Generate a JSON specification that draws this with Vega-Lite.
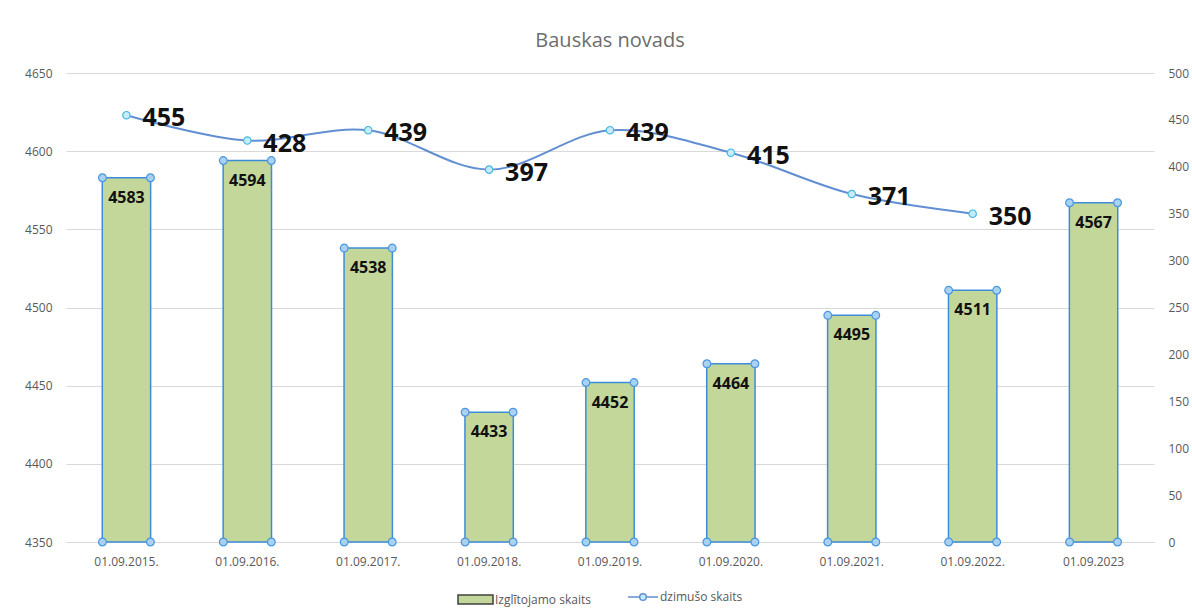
{
  "$schema": "https://vega.github.io/schema/vega-lite/v6.json",
  "width": 1192,
  "height": 615,
  "autosize": {"type": "fit", "contains": "padding"},
  "padding": {"left": 24, "right": 3, "top": 31, "bottom": 48},
  "background": "white",
  "config": {
    "view": {"stroke": null},
    "font": "Open Sans",
    "axis": {"labelColor": "#595959", "labelFontSize": 12, "labelFont": "Open Sans", "titleColor": "#595959"}
  },
  "title": {"text": "Bauskas novads", "fontSize": 20, "font": "Open Sans", "fontWeight": "normal", "color": "#6d6d6d", "offset": 16},
  "data": {
    "values": [
      {"date": "01.09.2015.", "pupils": 4583, "born": 455},
      {"date": "01.09.2016.", "pupils": 4594, "born": 428},
      {"date": "01.09.2017.", "pupils": 4538, "born": 439},
      {"date": "01.09.2018.", "pupils": 4433, "born": 397},
      {"date": "01.09.2019.", "pupils": 4452, "born": 439},
      {"date": "01.09.2020.", "pupils": 4464, "born": 415},
      {"date": "01.09.2021.", "pupils": 4495, "born": 371},
      {"date": "01.09.2022.", "pupils": 4511, "born": 350},
      {"date": "01.09.2023", "pupils": 4567, "born": null}
    ]
  },
  "encoding": {
    "x": {
      "field": "date", "type": "nominal", "sort": null, "title": null,
      "scale": {"paddingInner": 0.6, "paddingOuter": 0.3},
      "axis": {"labelAngle": 0, "ticks": false, "domainColor": "#D9D9D9", "labelPadding": 14, "grid": false}
    }
  },
  "layer": [
    {
      "encoding": {
        "y": {"type": "quantitative", "scale": {"domain": [4350, 4650], "nice": false, "zero": false}}
      },
      "layer": [
        {
          "mark": {"type": "bar", "stroke": "#3C8DD9", "strokeWidth": 1.5},
          "encoding": {
            "y": {"field": "pupils", "title": null,
              "axis": {"values": [4350, 4400, 4450, 4500, 4550, 4600, 4650], "format": "d", "domain": false, "ticks": false, "gridColor": "#D9D9D9", "labelPadding": 14}},
            "y2": {"datum": 4350},
            "fill": {"datum": "Izglītojamo skaits", "type": "nominal",
              "scale": {"range": ["#C4D79B"]},
              "legend": {"title": null, "orient": "none", "legendX": 391, "legendY": 508, "symbolType": "M-1,-0.26H1V0.26H-1Z", "symbolStrokeColor": "#404040", "symbolStrokeWidth": 1.5, "symbolSize": 1225, "labelColor": "#595959", "labelFontSize": 12, "labelOffset": 1}}
          }
        },
        {
          "mark": {"type": "text", "fontWeight": "bold", "fontSize": 16, "color": "#111111", "baseline": "middle", "dy": 20, "font": "Open Sans"},
          "encoding": {"y": {"field": "pupils"}, "text": {"field": "pupils"}}
        },
        {
          "mark": {"type": "point", "shape": "circle", "filled": true, "fill": "#A9D1F2", "stroke": "#4A97DE", "strokeWidth": 1.2, "size": 60, "opacity": 1, "xOffset": -24},
          "encoding": {"y": {"field": "pupils"}}
        },
        {
          "mark": {"type": "point", "shape": "circle", "filled": true, "fill": "#A9D1F2", "stroke": "#4A97DE", "strokeWidth": 1.2, "size": 60, "opacity": 1, "xOffset": 24},
          "encoding": {"y": {"field": "pupils"}}
        },
        {
          "mark": {"type": "point", "shape": "circle", "filled": true, "fill": "#A9D1F2", "stroke": "#4A97DE", "strokeWidth": 1.2, "size": 60, "opacity": 1, "xOffset": -24},
          "encoding": {"y": {"datum": 4350}}
        },
        {
          "mark": {"type": "point", "shape": "circle", "filled": true, "fill": "#A9D1F2", "stroke": "#4A97DE", "strokeWidth": 1.2, "size": 60, "opacity": 1, "xOffset": 24},
          "encoding": {"y": {"datum": 4350}}
        }
      ]
    },
    {
      "transform": [{"filter": "datum.born != null"}],
      "encoding": {
        "y": {"field": "born", "type": "quantitative", "scale": {"domain": [0, 500], "nice": false}}
      },
      "layer": [
        {
          "mark": {"type": "line", "interpolate": "catmull-rom", "strokeWidth": 2},
          "encoding": {
            "y": {"field": "born", "title": null,
              "axis": {"orient": "right", "values": [0, 50, 100, 150, 200, 250, 300, 350, 400, 450, 500], "domain": false, "ticks": false, "grid": false, "labelPadding": 14}},
            "stroke": {"datum": "dzimušo skaits", "type": "nominal",
              "scale": {"range": ["#628FD2"]},
              "legend": {"title": null, "orient": "none", "legendX": 561, "legendY": 508, "symbolType": "M-1,0H-0.22M0.22,0H1M0.22,0A0.22,0.22 0 1,1 -0.22,0A0.22,0.22 0 1,1 0.22,0", "symbolFillColor": "#C4ECF9", "symbolStrokeWidth": 1.5, "symbolSize": 900, "labelColor": "#595959", "labelFontSize": 12, "labelOffset": 1}}
          }
        },
        {
          "mark": {"type": "point", "shape": "circle", "filled": true, "fill": "#C4ECF9", "stroke": "#49B6E0", "strokeWidth": 1.2, "size": 55, "opacity": 1},
          "encoding": {"y": {"field": "born"}}
        },
        {
          "mark": {"type": "text", "fontWeight": "bold", "fontSize": 25, "color": "#111111", "align": "left", "baseline": "middle", "dx": 16, "dy": 3, "font": "Open Sans"},
          "encoding": {"y": {"field": "born"}, "text": {"field": "born"}}
        }
      ]
    }
  ],
  "resolve": {"scale": {"y": "independent", "fill": "independent", "stroke": "independent"}}
}
